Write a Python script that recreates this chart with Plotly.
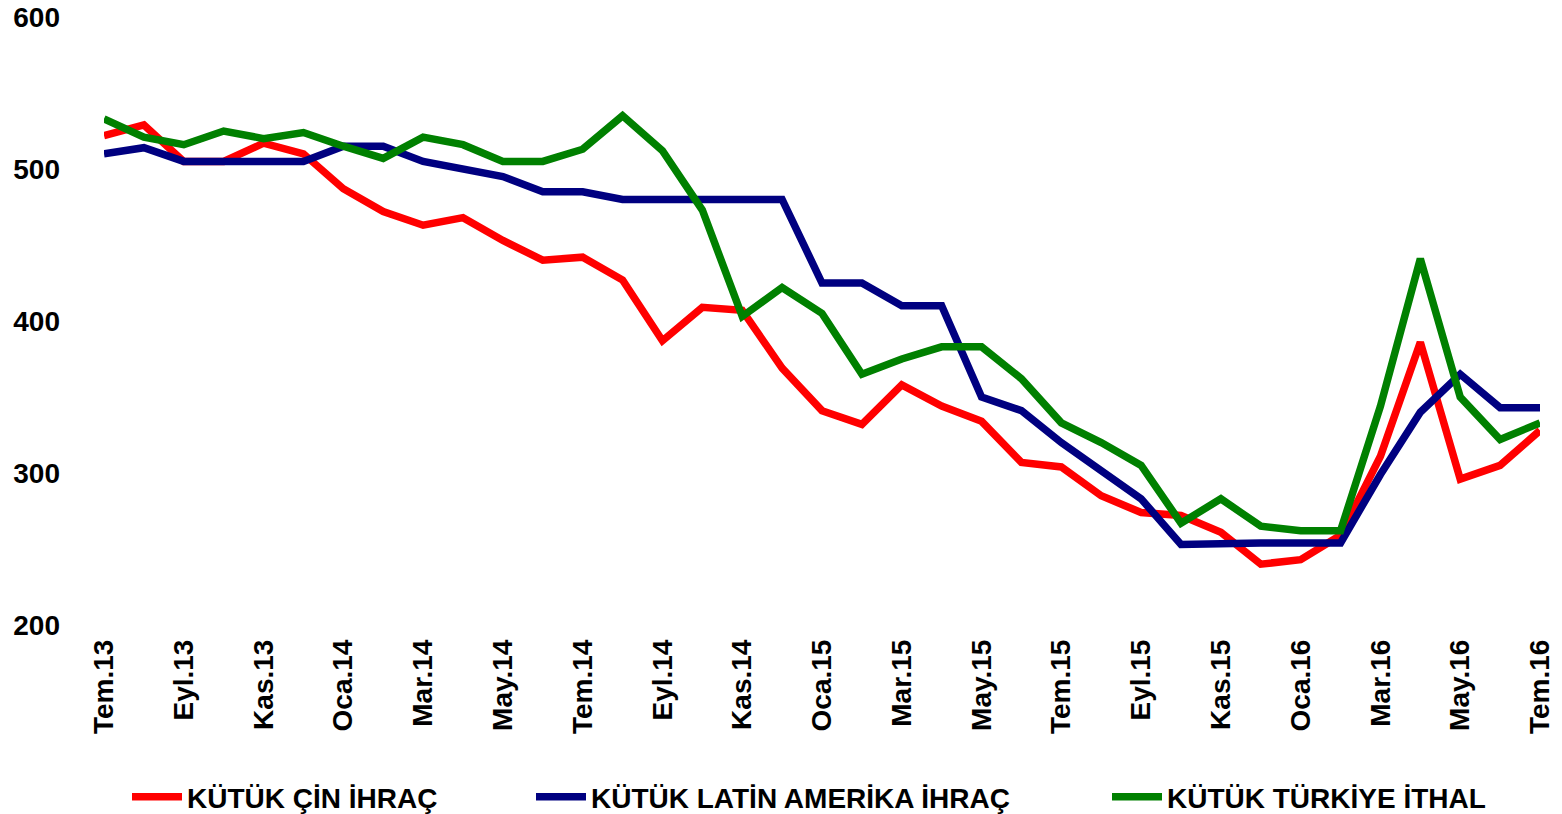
import plotly.graph_objects as go

months = ["Tem.13", "Ağu.13", "Eyl.13", "Eki.13", "Kas.13", "Ara.13",
          "Oca.14", "Şub.14", "Mar.14", "Nis.14", "May.14", "Haz.14",
          "Tem.14", "Ağu.14", "Eyl.14", "Eki.14", "Kas.14", "Ara.14",
          "Oca.15", "Şub.15", "Mar.15", "Nis.15", "May.15", "Haz.15",
          "Tem.15", "Ağu.15", "Eyl.15", "Eki.15", "Kas.15", "Ara.15",
          "Oca.16", "Şub.16", "Mar.16", "Nis.16", "May.16", "Haz.16",
          "Tem.16"]

tick_labels = ["Tem.13", "Eyl.13", "Kas.13", "Oca.14", "Mar.14", "May.14",
               "Tem.14", "Eyl.14", "Kas.14", "Oca.15", "Mar.15", "May.15",
               "Tem.15", "Eyl.15", "Kas.15", "Oca.16", "Mar.16", "May.16",
               "Tem.16"]

cin_ihrac = [522, 529, 505, 505, 517, 510, 487, 472, 463, 468, 453, 440,
             442, 427, 387, 409, 407, 369, 341, 332, 358, 344, 334, 307,
             304, 285, 274, 272, 261, 240, 243, 259, 311, 386, 296, 305,
             328]

latin_amerika_ihrac = [510, 514, 505, 505, 505, 505, 515, 515, 505, 500, 495, 485,
                       485, 480, 480, 480, 480, 480, 425, 425, 410, 410, 350, 341,
                       320, 302, 283, 253, 254, 254, 254, 254, 299, 340, 365, 343,
                       343]

turkiye_ithal = [533, 521, 516, 525, 520, 524, 515, 507, 521, 516, 505, 505,
                 513, 535, 512, 473, 403, 422, 405, 365, 375, 383, 383, 362,
                 333, 320, 305, 267, 283, 265, 262, 262, 344, 441, 350, 322,
                 333]

series_names = ["KÜTÜK ÇİN İHRAÇ", "KÜTÜK LATİN AMERİKA İHRAÇ", "KÜTÜK TÜRKİYE İTHAL"]
series_values = [cin_ihrac, latin_amerika_ihrac, turkiye_ithal]
colors = ["#FF0000", "#000080", "#008000"]
legend_ids = ["legend", "legend2", "legend3"]

FONT = "Liberation Sans, Arial, sans-serif"
FS = 28

fig = go.Figure()
for name, vals, col, lg in zip(series_names, series_values, colors, legend_ids):
    fig.add_trace(go.Scatter(
        x=months, y=vals, mode="lines", name=name,
        line=dict(color=col, width=7.5),
        legend=lg,
    ))

# page body adds an 8px margin, so the figure is sized to fill the rest
W, H = 1554, 806
legend_common = dict(
    orientation="h", xref="container", yref="container",
    yanchor="middle", xanchor="left",
    bgcolor="rgba(0,0,0,0)", itemwidth=50,
    font=dict(family=FONT, size=FS, color="#000000", weight="bold"),
)
legend_px = [119, 523, 1099]
legend_y = 1 - 789 / H

fig.update_layout(
    width=W, height=H,
    margin=dict(l=96, r=22, t=9, b=189, autoexpand=False),
    plot_bgcolor="#FFFFFF", paper_bgcolor="#FFFFFF",
    font=dict(family=FONT, size=FS, color="#000000", weight="bold"),
    showlegend=True,
    legend=dict(x=legend_px[0] / W, y=legend_y, **legend_common),
    legend2=dict(x=legend_px[1] / W, y=legend_y, **legend_common),
    legend3=dict(x=legend_px[2] / W, y=legend_y, **legend_common),
)

fig.update_xaxes(
    type="category", range=[0, len(months) - 1],
    tickmode="array", tickvals=tick_labels, ticktext=tick_labels,
    tickangle=-90, showgrid=False, zeroline=False, showline=False,
    ticks="", ticklabelstandoff=8, automargin=False,
    ticklabeloverflow="allow",
    tickfont=dict(family=FONT, size=FS, color="#000000", weight="bold"),
)
fig.update_yaxes(
    range=[200, 600], tickvals=[200, 300, 400, 500, 600],
    showgrid=False, zeroline=False, showline=False, ticks="",
    ticklabelstandoff=43, automargin=False,
    ticklabeloverflow="allow",
    tickfont=dict(family=FONT, size=FS, color="#000000", weight="bold"),
)

fig.write_html("out.html")
